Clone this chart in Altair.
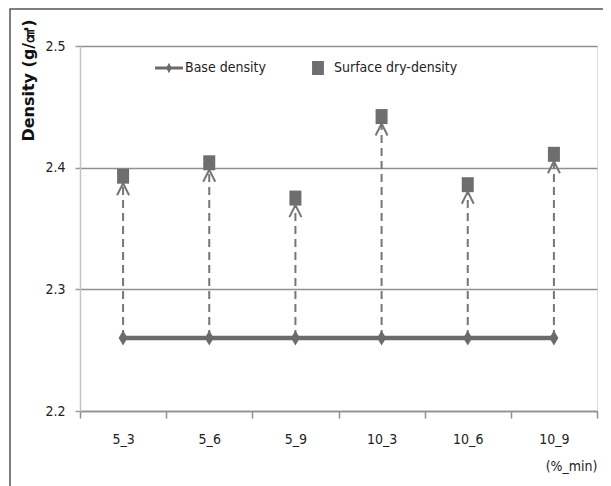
import altair as alt
import pandas as pd

categories = ["5_3", "5_6", "5_9", "10_3", "10_6", "10_9"]
base_density = [2.26, 2.26, 2.26, 2.26, 2.26, 2.26]
surface_dry_density = [2.393, 2.404, 2.375, 2.442, 2.386, 2.411]
series = ["Base density", "Surface dry-density"]
y_ticks = [2.2, 2.3, 2.4, 2.5]

NARROW = "Liberation Sans Narrow, DejaVu Sans Condensed, Arial Narrow, sans-serif"
GRAY = "#6b6b6b"

df = pd.DataFrame({"category": categories, "base": base_density, "surface": surface_dry_density})
legend_df = pd.DataFrame({"series": series, "category": [categories[0]] * 2, "base": [base_density[0]] * 2})
frame_df = pd.DataFrame({"a": [0]})

x_enc = alt.X(
    "category:N",
    sort=categories,
    scale=alt.Scale(domain=categories, paddingInner=0, paddingOuter=0),
    axis=alt.Axis(
        title="(%_min)", tickBand="extent", labelAngle=0,
        labelFont=NARROW, labelFontSize=14, labelColor="#222", labelPadding=14,
        tickSize=7, tickColor="#8f8f8f", tickWidth=1.5,
        domainColor="#8f8f8f", domainWidth=1.5, grid=False,
        titleFont=NARROW, titleFontSize=14, titleFontWeight="normal", titleColor="#222",
        titleAnchor="end", titleAlign="right", titleBaseline="middle", titleX=517, titleY=55,
    ),
)


def y_enc(field):
    return alt.Y(
        f"{field}:Q",
        scale=alt.Scale(domain=[2.2, 2.5], nice=False, zero=False),
        axis=alt.Axis(
            values=y_ticks, format=".1f", title="Density (g/㎤)",
            labelFont=NARROW, labelFontSize=14, labelColor="#222", labelPadding=10,
            tickSize=5, tickColor="#9a9a9a", tickWidth=1.5,
            domainColor="#c4c4c4", domainWidth=1.5,
            grid=True, gridColor="#8f8f8f", gridWidth=1.5,
            titleFont="DejaVu Sans", titleFontSize=16, titleFontWeight="bold", titleColor="#111",
            titleAngle=270, titleAlign="right", titleBaseline="middle", titleX=-52, titleY=-27,
        ),
    )


base = alt.Chart(df)

frame = alt.Chart(frame_df).mark_rect(filled=False, stroke="#555", strokeWidth=1.5).encode(
    x=alt.value(-70), x2=alt.value(600), y=alt.value(-37), y2=alt.value(470)
)

rules = base.mark_rule(strokeDash=[8, 5], strokeWidth=2, color="#767676", y2Offset=8).encode(
    x=x_enc, y=y_enc("base"), y2="surface:Q"
)

arrows = base.mark_point(
    shape="M-1,1 L0,-1 L1,1", filled=False, size=144, strokeWidth=2, color="#767676", yOffset=13, opacity=1
).encode(x=x_enc, y=y_enc("surface"))

base_line = base.mark_line(strokeWidth=4.5, color=GRAY).encode(x=x_enc, y=y_enc("base"))

diamonds = base.mark_point(
    shape="M0,-1 L0.6,0 L0,1 L-0.6,0 Z", filled=True, size=225, color=GRAY, opacity=1
).encode(x=x_enc, y=y_enc("base"))

squares = base.mark_point(
    shape="M-0.8,-1 L0.8,-1 L0.8,1 L-0.8,1 Z", filled=True, size=225, color="#6e6e6e", opacity=1
).encode(x=x_enc, y=y_enc("surface"))

legend_spec = alt.Legend(
    orient="none", legendX=82, legendY=15, direction="horizontal", title=None,
    symbolSize=196, symbolOpacity=1, symbolStrokeWidth=0, symbolFillColor=GRAY,
    labelOffset=9, columnPadding=45, labelFont=NARROW, labelFontSize=14, labelColor="#222",
)

legend_layer = alt.Chart(legend_df).mark_point(filled=True, opacity=0).encode(
    x=x_enc,
    y=y_enc("base"),
    color=alt.Color("series:N", scale=alt.Scale(domain=series, range=[GRAY, "#6e6e6e"]), legend=legend_spec),
    shape=alt.Shape(
        "series:N",
        scale=alt.Scale(
            domain=series,
            range=[
                "M-2,-0.2 L2,-0.2 L2,0.2 L-2,0.2 Z M0,-0.75 L0.4,0 L0,0.75 L-0.4,0 Z",
                "M-0.85,-1 L0.85,-1 L0.85,1 L-0.85,1 Z",
            ],
        ),
        legend=legend_spec,
    ),
)

chart = alt.layer(frame, rules, arrows, base_line, diamonds, squares, legend_layer).properties(
    width=517, height=365,
    autosize=alt.AutoSizeParams(type="none"),
    padding={"left": 72, "top": 38, "right": 6, "bottom": 75},
).configure_view(stroke=None).configure(background="white")

chart.save("out.html", embed_options={"renderer": "svg", "actions": False})
